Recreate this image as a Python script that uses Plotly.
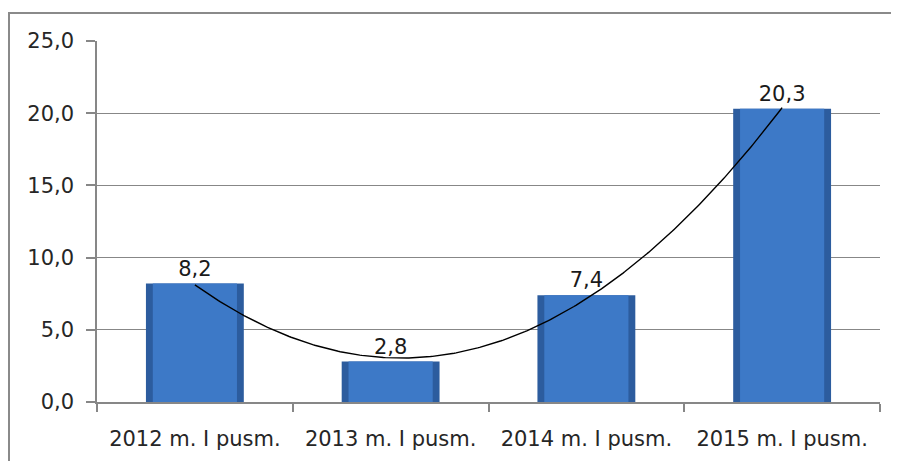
import numpy as np
import plotly.graph_objects as go

categories = ["2012 m. I pusm.", "2013 m. I pusm.", "2014 m. I pusm.", "2015 m. I pusm."]
values = [8.2, 2.8, 7.4, 20.3]
y_ticks = [0, 5, 10, 15, 20, 25]

x_pos = np.arange(1, len(categories) + 1)

# Excel-style polynomial (order 2) trendline fitted to the values
coef = np.polyfit(x_pos, values, 2)
x_fit = np.linspace(x_pos[0], x_pos[-1], 300)
y_fit = np.polyval(coef, x_fit)

FONT = "DejaVu Sans"
GRAY = "#878787"

fig = go.Figure()
fig.add_trace(go.Bar(
    x=x_pos, y=values, width=0.5,
    marker=dict(color="#2C5C9E", line=dict(width=0)),
    hoverinfo="skip", showlegend=False,
))
fig.add_trace(go.Bar(
    x=x_pos, y=values, width=0.43,
    marker=dict(color="#3D79C7", line=dict(width=0)),
    texttemplate="%{y:.1f}", textposition="outside",
    textfont=dict(family=FONT, size=21, color="#1a1a1a"),
    cliponaxis=False, showlegend=False,
))
fig.add_trace(go.Scatter(
    x=x_fit, y=y_fit, mode="lines",
    line=dict(color="#000000", width=1.4),
    hoverinfo="skip", showlegend=False,
))

fig.update_layout(
    width=899, height=461,
    margin=dict(l=89, r=27, t=33, b=67),
    paper_bgcolor="white", plot_bgcolor="white",
    separators=", ",
    barmode="overlay",
    font=dict(family=FONT, size=21, color="#262626"),
    xaxis=dict(
        range=[0.5, 4.5], tickvals=list(x_pos), ticktext=categories,
        ticks="", showgrid=False, showline=True, linecolor=GRAY, linewidth=1.5,
        zeroline=False, ticklabelstandoff=17,
        tickfont=dict(family=FONT, size=21, color="#262626"),
        minor=dict(tickvals=[0.5, 1.5, 2.5, 3.5, 4.5], ticks="outside",
                   ticklen=8, tickcolor=GRAY, tickwidth=1.5, showgrid=False),
    ),
    yaxis=dict(
        range=[0, 25], tickvals=y_ticks, tickformat=".1f",
        ticks="outside", ticklen=9, tickcolor=GRAY, tickwidth=1.5,
        showgrid=True, gridcolor=GRAY, gridwidth=1.2,
        showline=True, linecolor=GRAY, linewidth=1.5, zeroline=False,
        ticklabelstandoff=8,
        tickfont=dict(family=FONT, size=21, color="#262626"),
    ),
    shapes=[dict(type="rect", xref="paper", yref="paper",
                 x0=-0.1124, x1=1.1, y0=-0.3, y1=1.0776,
                 line=dict(color="#8a8a8a", width=2), layer="below")],
)

fig.write_html("out.html")
